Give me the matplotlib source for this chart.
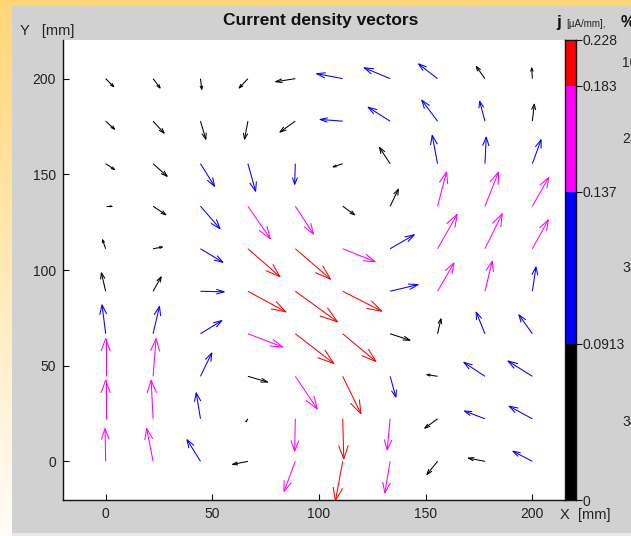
import numpy as np
import matplotlib
matplotlib.use('Agg')
import matplotlib.pyplot as plt
from matplotlib.collections import LineCollection
from matplotlib.patches import Rectangle
import matplotlib.transforms as mtransforms

plt.rcParams['font.family'] = ['Liberation Sans', 'DejaVu Sans']

# ---------------- data ----------------
x_pts = [0, 22.22, 44.44, 66.67, 88.89, 111.11, 133.33, 155.56, 177.78, 200]
y_pts = [0, 22.22, 44.44, 66.67, 88.89, 111.11, 133.33, 155.56, 177.78, 200]

# arrow components as drawn (mm); rows: y = 0 ... 200, columns: x = 0 ... 200
u_rows = [
    [-0.3, -3.0, -6.3, -7.2, -5.3, -3.4, -2.5, -5.0, -7.8, -9.1],
    [0.0, -0.9, -2.0, -0.9, -0.3, 0.5, -1.4, -6.0, -9.6, -10.9],
    [0.0, 1.4, 5.3, 9.2, 10.3, 8.5, 2.7, -5.0, -9.9, -11.4],
    [-1.7, 3.0, 10.0, 16.3, 18.1, 15.6, 9.3, 1.6, -4.1, -6.3],
    [-2.0, 3.8, 11.1, 17.8, 19.8, 18.3, 13.1, 7.7, 3.4, 1.7],
    [-1.5, 4.4, 10.5, 15.0, 16.5, 15.2, 11.3, 9.2, 8.1, 7.5],
    [2.8, 6.0, 9.2, 10.5, 8.5, 5.6, 3.9, 4.2, 6.4, 7.7],
    [4.2, 6.6, 6.6, 3.6, -0.3, -4.5, -5.0, -2.5, 0.6, 4.1],
    [4.2, 5.2, 2.5, -1.6, -7.2, -10.6, -10.3, -7.4, -2.5, 0.9],
    [3.8, 3.3, 0.6, -4.1, -9.2, -12.2, -12.2, -8.9, -4.1, -0.3],
]
v_rows = [
    [17.1, 17.1, 11.3, -1.6, -15.7, -20.5, -16.5, -6.9, 1.7, 5.3],
    [20.2, 20.2, 13.6, -1.6, -16.9, -20.9, -16.3, -4.9, 4.1, 6.6],
    [19.7, 19.7, 12.2, -3.0, -17.1, -19.5, -10.8, 0.9, 7.3, 8.0],
    [15.1, 14.3, 6.9, -6.9, -15.6, -14.5, -3.4, 7.8, 11.3, 9.9],
    [9.6, 7.5, -0.3, -10.8, -16.0, -10.4, 3.5, 14.8, 15.7, 12.7],
    [4.7, 0.9, -7.1, -14.6, -15.9, -6.8, 7.3, 18.0, 18.3, 15.1],
    [0.0, -4.5, -11.8, -17.0, -14.6, -4.5, 8.9, 17.9, 17.9, 15.1],
    [-3.1, -6.6, -11.8, -14.4, -10.8, -1.7, 8.5, 14.8, 13.9, 12.5],
    [-4.2, -6.3, -9.4, -9.4, -5.7, 0.9, 7.3, 11.0, 10.4, 8.9],
    [-4.2, -4.9, -5.6, -4.9, -1.6, 2.6, 5.7, 7.7, 6.4, 5.6],
]
MM_PER_J = 112.0  # arrow length (mm) per 1 uA/mm

j_bounds = [0, 0.0913, 0.137, 0.183, 0.228]
j_labels = ['0', '0.0913', '0.137', '0.183', '0.228']
band_colors = ['black', 'blue', 'magenta', 'red']

# ---------------- figure ----------------
W, H = 631, 536
fig = plt.figure(figsize=(W / 100, H / 100), dpi=100)

# background: orange->white gradient with grey panel
bg = fig.add_axes([0, 0, 1, 1], zorder=-10)
t = np.linspace(0, 1, 256)[:, None]
orange = np.array([255, 214, 118]) / 255.0
white = np.array([255, 252, 248]) / 255.0
grad = (1 - t)[..., None] * orange + t[..., None] * white
grad = np.repeat(grad, 2, axis=1)
bg.imshow(grad, aspect='auto', extent=[0, W, H, 0])
bg.add_patch(Rectangle((12, 6), W - 12, 527, color='#d1d1d1', lw=0))
bg.add_patch(Rectangle((12, 533), W - 12, 3, color='#e9e9e9', lw=0))
bg.set_xlim(0, W)
bg.set_ylim(H, 0)
bg.axis('off')


def fx(px):
    return px / W


def fy(py):
    return 1 - py / H


ax = fig.add_axes([fx(63), fy(500), fx(565) - fx(63), fy(40) - fy(500)])
ax.set_facecolor('white')

X, Y = np.meshgrid(np.array(x_pts), np.array(y_pts))
U = np.array(u_rows)
V = np.array(v_rows)
jmag = np.hypot(U, V) / MM_PER_J
cls = np.digitize(jmag, j_bounds[1:-1])

alpha, beta = 0.33, 0.33
tx, ty = X + U, Y + V
b1x = tx - alpha * (U + beta * V)
b1y = ty - alpha * (V - beta * U)
b2x = tx - alpha * (U - beta * V)
b2y = ty - alpha * (V + beta * U)

segs, cols = [], []
for k in range(U.size):
    r, c = divmod(k, U.shape[1])
    col = band_colors[cls[r, c]]
    segs.append([(X[r, c], Y[r, c]), (tx[r, c], ty[r, c])])
    segs.append([(b1x[r, c], b1y[r, c]), (tx[r, c], ty[r, c]), (b2x[r, c], b2y[r, c])])
    cols += [col, col]
ax.add_collection(LineCollection(segs, colors=cols, linewidths=0.75))

ax.set_xlim(-20, 215.3)
ax.set_ylim(-20.2, 220.2)
ax.set_xticks([0, 50, 100, 150, 200])
ax.set_yticks([0, 50, 100, 150, 200])
for s in ['top', 'right']:
    ax.spines[s].set_visible(False)
for s in ['left', 'bottom']:
    ax.spines[s].set_color('#111111')
    ax.spines[s].set_linewidth(1.0)
ax.tick_params(direction='in', length=4.5, width=0.8, color='#111111',
               labelsize=10, labelcolor='#222222', pad=5)

# ---------------- colour bar (band height = share of vectors) ----------------
counts = np.bincount(cls.ravel(), minlength=4)
pct = counts / counts.sum() * 100
cum = np.concatenate([[0], np.cumsum(pct)])
cax = fig.add_axes([fx(565), fy(500), fx(576) - fx(565), fy(40) - fy(500)])
for k in range(4):
    cax.bar(0, pct[k], bottom=cum[k], width=1, color=band_colors[k], lw=0)
cax.set_xlim(-0.5, 0.5)
cax.set_ylim(0, 100)
cax.set_xticks([])
cax.yaxis.tick_right()
cax.set_yticks(cum)
cax.set_yticklabels(j_labels)
cax.tick_params(axis='y', direction='out', length=4, width=0.8, color='#111111',
                labelsize=10, labelcolor='#222222', pad=1)
for s in cax.spines.values():
    s.set_color('#111111')
    s.set_linewidth(1.0)
trans = mtransforms.blended_transform_factory(cax.transAxes, cax.transData)
for k in range(4):
    cax.text((622 - 565) / 11, (cum[k] + cum[k + 1]) / 2, '%d' % round(pct[k]),
             transform=trans, ha='left', va='center', fontsize=10,
             color='#222222', clip_on=False)

# ---------------- texts ----------------
fig.text(fx(321), fy(20), 'Current density vectors', ha='center', va='center',
         fontsize=12.5, fontweight='bold', color='#111111')
fig.text(fx(20), fy(31), 'Y   [mm]', ha='left', va='center', fontsize=10.5, color='#222222')
fig.text(fx(560), fy(515), 'X  [mm]', ha='left', va='center', fontsize=10.5, color='#222222')
fig.text(fx(556), fy(27), 'j', ha='left', va='baseline', fontsize=12.5,
         fontweight='bold', color='#111111')
fig.text(fx(566), fy(27), '[µA/mm],', ha='left', va='baseline', fontsize=7, color='#222222')
fig.text(fx(621), fy(27), '%', ha='left', va='baseline', fontsize=11.5,
         fontweight='bold', color='#111111')

fig.savefig('out.png', dpi=100)
